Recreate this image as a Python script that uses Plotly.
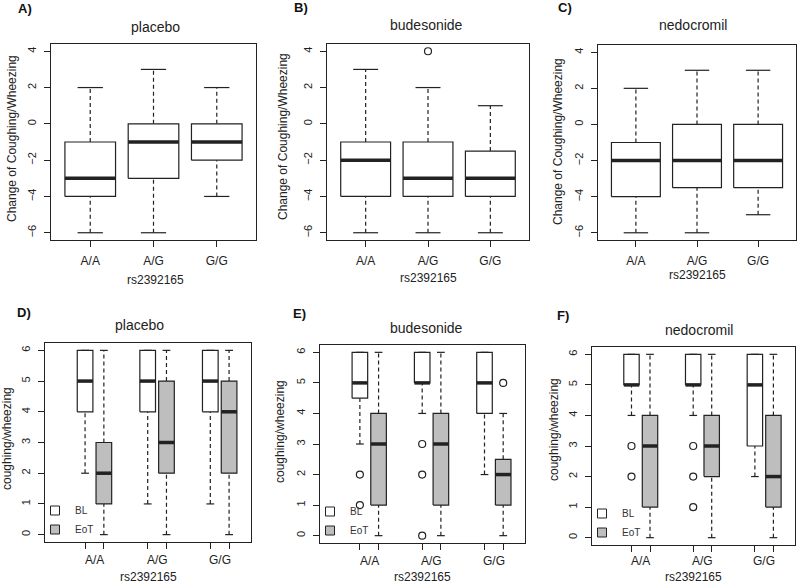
import plotly.graph_objects as go

# ---------------- data (whisker low, Q1, median, Q3, whisker high) ----------------
genotypes = ["A/A", "A/G", "G/G"]
treatments = ["placebo", "budesonide", "nedocromil"]
snp_name = "rs2392165"

# Top row: change of coughing/wheezing
chg_placebo = [[-6, -4, -3, -1, 2], [-6, -3, -1, 0, 3], [-4, -2, -1, 0, 2]]
chg_placebo_out = [[], [], []]
chg_budesonide = [[-6, -4, -2, -1, 3], [-6, -4, -3, -1, 2], [-6, -4, -3, -1.5, 1]]
chg_budesonide_out = [[], [4], []]
chg_nedocromil = [[-6, -4, -2, -1, 2], [-6, -3.5, -2, 0, 3], [-5, -3.5, -2, 0, 3]]
chg_nedocromil_out = [[], [], []]

# Bottom row: coughing/wheezing at baseline (BL) and end of treatment (EoT)
bl_placebo = [[2, 4, 5, 6, 6], [1, 4, 5, 6, 6], [1, 4, 5, 6, 6]]
bl_placebo_out = [[], [], []]
eot_placebo = [[0, 1, 2, 3, 6], [0, 2, 3, 5, 6], [0, 2, 4, 5, 6]]
eot_placebo_out = [[], [], []]

bl_budesonide = [[3, 4.5, 5, 6, 6], [4, 5, 5, 6, 6], [2, 4, 5, 6, 6]]
bl_budesonide_out = [[2, 1], [3, 2, 0], []]
eot_budesonide = [[0, 1, 3, 4, 6], [0, 1, 3, 4, 6], [0, 1, 2, 2.5, 4]]
eot_budesonide_out = [[], [], [5]]

bl_nedocromil = [[4, 5, 5, 6, 6], [4, 5, 5, 6, 6], [2, 3, 5, 6, 6]]
bl_nedocromil_out = [[3, 2], [3, 2, 1], []]
eot_nedocromil = [[0, 1, 3, 4, 6], [0, 2, 3, 4, 6], [0, 1, 2, 4, 6]]
eot_nedocromil_out = [[], [], []]

top_ticks = [-6, -4, -2, 0, 2, 4]
bottom_ticks = [0, 1, 2, 3, 4, 5, 6]
panel_letters = ["A)", "B)", "C)", "D)", "E)", "F)"]
series_names = ["BL", "EoT"]

# ---------------- style ----------------
W, H = 800, 585
FONT = "Liberation Sans, Arial, sans-serif"
INK = "#222222"
GRAY = "#bebebe"
DASH = "4px,3px"

# plot regions in pixels (left, right, top, bottom)
regions = [
    (51, 256, 44, 240), (327, 529, 44, 240), (598, 796, 45, 240),
    (45, 251, 343, 542), (320, 525, 345, 543), (592, 795, 347, 545),
]
legend_names = ["legend", "legend2", "legend3"]

fig = go.Figure()


def axis_ids(i):
    s = "" if i == 1 else str(i)
    return "x" + s, "y" + s


def add_boxes(i, xs, stats, outs, half, cap_half, fill, dash):
    xa, ya = axis_ids(i)
    wx, wy, bx, by, mx, my, cx, cy, ox, oy = [], [], [], [], [], [], [], [], [], []
    for x, (lo, q1, med, q3, hi), out in zip(xs, stats, outs):
        wx += [x, x, None, x, x, None]
        wy += [lo, q1, None, q3, hi, None]
        bx += [x - half, x + half, x + half, x - half, x - half, None]
        by += [q1, q1, q3, q3, q1, None]
        mx += [x - half, x + half, None]
        my += [med, med, None]
        cx += [x - cap_half, x + cap_half, None, x - cap_half, x + cap_half, None]
        cy += [lo, lo, None, hi, hi, None]
        ox += [x] * len(out)
        oy += list(out)
    common = dict(xaxis=xa, yaxis=ya, showlegend=False, hoverinfo="skip")
    fig.add_trace(go.Scatter(x=wx, y=wy, mode="lines",
                             line=dict(color=INK, width=1.2, dash=dash), **common))
    fig.add_trace(go.Scatter(x=cx, y=cy, mode="lines",
                             line=dict(color=INK, width=1.2), **common))
    fig.add_trace(go.Scatter(x=bx, y=by, mode="lines", fill="toself", fillcolor=fill,
                             line=dict(color=INK, width=1.2), **common))
    fig.add_trace(go.Scatter(x=mx, y=my, mode="lines",
                             line=dict(color=INK, width=3.5), **common))
    if ox:
        fig.add_trace(go.Scatter(x=ox, y=oy, mode="markers",
                                 marker=dict(symbol="circle-open", size=7,
                                             color=INK, line=dict(width=1.2)), **common))


# top row
top_sets = [(chg_placebo, chg_placebo_out), (chg_budesonide, chg_budesonide_out),
            (chg_nedocromil, chg_nedocromil_out)]
pos = [1, 2, 3]
for k, (st, ou) in enumerate(top_sets):
    add_boxes(k + 1, pos, st, ou, 0.4, 0.2, "white", DASH)

# bottom row
bottom_sets = [
    (bl_placebo, bl_placebo_out, eot_placebo, eot_placebo_out),
    (bl_budesonide, bl_budesonide_out, eot_budesonide, eot_budesonide_out),
    (bl_nedocromil, bl_nedocromil_out, eot_nedocromil, eot_nedocromil_out),
]
offset = 0.15
bl_pos = [p - offset for p in pos]
eot_pos = [p + offset for p in pos]
for k, (bs, bo, es, eo) in enumerate(bottom_sets):
    i = k + 4
    add_boxes(i, bl_pos, bs, bo, 0.125, 0.0625, "white", DASH)
    add_boxes(i, eot_pos, es, eo, 0.125, 0.0625, GRAY, DASH)
    xa, ya = axis_ids(i)
    for nm, col in zip(series_names, ["white", GRAY]):
        fig.add_trace(go.Scatter(x=[None], y=[None], mode="markers", name=nm,
                                 xaxis=xa, yaxis=ya, legend=legend_names[k], showlegend=True,
                                 marker=dict(symbol="square", size=9, color=col,
                                             line=dict(color=INK, width=1))))

# ---------------- axes ----------------
layout = dict(width=W, height=H, margin=dict(l=0, r=0, t=0, b=0, autoexpand=False),
              paper_bgcolor="white", plot_bgcolor="white",
              font=dict(family=FONT, size=12, color=INK), showlegend=True)
annotations = []
for i, (l, r, t, b) in enumerate(regions, start=1):
    s = "" if i == 1 else str(i)
    top = i <= 3
    xd = [l / W, r / W]
    yd = [1 - b / H, 1 - t / H]
    ax_common = dict(showline=True, mirror=True, linecolor=INK, linewidth=1.2,
                     ticks="outside", ticklen=6, tickcolor=INK, tickwidth=1,
                     showgrid=False, zeroline=False, fixedrange=True, automargin=False)
    if top:
        xax = dict(domain=xd, range=[0.38, 3.62], tickvals=pos, ticktext=genotypes,
                   tickfont=dict(size=12), ticklabelstandoff=3, anchor="y" + s, **ax_common)
        yax = dict(domain=yd, range=[-6.4, 4.4], tickvals=top_ticks, tickangle=-90,
                   tickfont=dict(size=11), ticklabelstandoff=4, anchor="x" + s, **ax_common)
    else:
        xax = dict(domain=xd, range=[0.21, 3.5], tickvals=bl_pos + eot_pos,
                   ticktext=[""] * 6, anchor="y" + s, **ax_common)
        yax = dict(domain=yd, range=[-0.24, 6.24], tickvals=bottom_ticks, tickangle=-90,
                   tickfont=dict(size=11), ticklabelstandoff=4, anchor="x" + s, **ax_common)
        for p, g in zip(pos, genotypes):
            annotations.append(dict(x=p, xref="x" + s, y=1 - min(b + 18, 561) / H,
                                    yref="paper", text=g, showarrow=False,
                                    font=dict(size=12), borderpad=0,
                                    xanchor="center", yanchor="middle"))
        layout[legend_names[i - 4]] = dict(
            x=(l - 10) / W, y=1 - (b + 2) / H, xanchor="left", yanchor="bottom",
            bgcolor="rgba(0,0,0,0)", borderwidth=0,
            font=dict(size=10, color="#333333"), itemwidth=30, tracegroupgap=0)
    layout["xaxis" + s] = xax
    layout["yaxis" + s] = yax

# titles / labels (pixel positions)
title_pos = [(155, 27), (427, 25), (693, 25), (139, 325), (426, 328), (699, 330)]
letter_pos = [(16, 9), (292, 8), (556, 8), (15, 312), (291, 313), (555, 315)]
ytitle_pos = [(12, 139), (283, 137), (558, 142), (7, 439), (280, 432), (554, 430)]
xtitle_pos = [(155, 280), (428, 278), (697, 275), (148, 577), (422, 577), (693, 577)]
ytitles = ["Change of Coughing/Wheezing"] * 3 + ["coughing/wheezing"] * 3
for i in range(6):
    tx, ty = title_pos[i]
    annotations.append(dict(x=tx / W, y=1 - ty / H, xref="paper", yref="paper",
                            text=treatments[i % 3], showarrow=False,
                            font=dict(size=14), xanchor="center", yanchor="middle"))
    lx, ly = letter_pos[i]
    annotations.append(dict(x=lx / W, y=1 - ly / H, xref="paper", yref="paper",
                            text="<b>%s</b>" % panel_letters[i], showarrow=False,
                            font=dict(size=13, color="#111111"), xanchor="left",
                            yanchor="middle"))
    yx, yy = ytitle_pos[i]
    annotations.append(dict(x=yx / W, y=1 - yy / H, xref="paper", yref="paper",
                            text=ytitles[i], textangle=-90, showarrow=False,
                            font=dict(size=12), xanchor="center", yanchor="middle"))
    xx, xy = xtitle_pos[i]
    annotations.append(dict(x=xx / W, y=1 - xy / H, xref="paper", yref="paper",
                            text=snp_name, showarrow=False, borderpad=0,
                            font=dict(size=12), xanchor="center", yanchor="middle"))

layout["annotations"] = annotations
fig.update_layout(**layout)
fig.write_html("out.html", config={"displayModeBar": False},
               post_script="document.body.style.margin='0px';")
